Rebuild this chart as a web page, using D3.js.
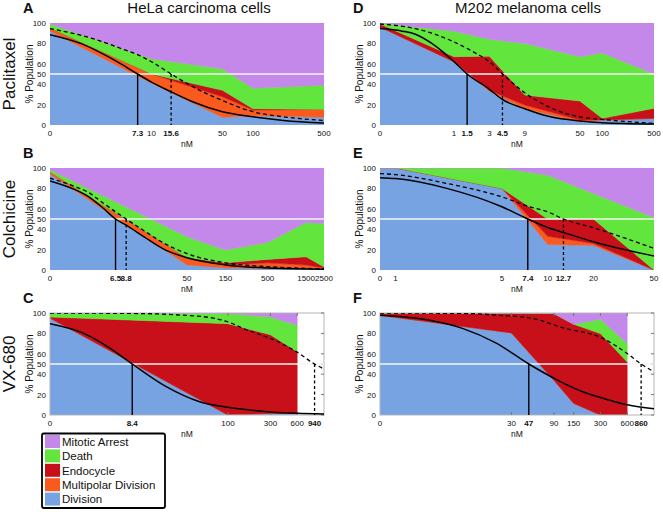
<!DOCTYPE html>
<html><head><meta charset="utf-8">
<script src="https://cdn.jsdelivr.net/npm/d3@7"></script>
<style>
body{margin:0;background:#fff}
svg{display:block}
text{font-family:"Liberation Sans",Arial,Helvetica,sans-serif;fill:#111}
</style>
</head><body>
<svg id="chart" width="663" height="512"></svg>
<script>
// ---------- legend / layers ----------
const layerNames  = ["Mitotic Arrest","Death","Endocycle","Multipolar Division","Division"];
const layerColors = ["#c487ea","#62e53c","#c8101a","#fa5a1e","#77a3e2"];
const stackKeys   = ["division","multipolar","endocycle","death","mitotic"];
const yTicks = [0,20,40,50,60,80,100];

// ---------- Panel A: Paclitaxel / HeLa ----------
const concA       = [0, 10, 50, 100, 500];
const divisionA   = [92, 41, 7.5, 9, 7.5];
const multipolarA = [3, 9, 20.2, 5.7, 7.8];
const endocycleA  = [0, 0, 6.3, 1.3, 0];
const deathA      = [4, 15, 21, 20, 23.7];
const mitoticA    = [1, 35, 45, 64, 61];
const solidA  = [[0,88.6],[2,80],[3,72],[5,60],[7.3,50],[10,42],[15.6,32.5],[25,23],[50,13],[100,8],[200,4.5],[500,2]];
const dashedA = [[0,94.5],[2,88],[3,83],[5,75],[7.3,69],[10,62],[15.6,50],[25,38],[50,24],[100,13],[200,8],[500,4.5]];
const ticksA = [0,10,50,100,500], boldA = [7.3,15.6];

// ---------- Panel D: Paclitaxel / M202 ----------
const concD       = [0, 1, 3, 9, 50, 100, 500];
const divisionD   = [96, 62, 33, 16, 3, 5, 6.5];
const multipolarD = [0, 0, 1, 3.5, 2, 0, 0];
const endocycleD  = [3, 5, 33.4, 9.8, 18.5, 1.5, 9.8];
const deathD      = [1, 25, 16.6, 50.7, 43.5, 64.2, 33.7];
const mitoticD    = [0, 8, 16, 20, 33, 29.3, 50];
const solidD  = [[0,94.5],[0.2,92],[0.3,89],[0.5,80],[0.7,72],[1,62],[1.5,50],[3,35],[4.5,25],[9,16],[20,8],[50,4],[100,2.3],[500,1]];
const dashedD = [[0,99],[0.3,94.5],[0.5,90],[1,81.4],[2,70],[3,62],[4.5,50],[9,31.6],[20,17],[50,8],[100,5.5],[500,1.6]];
const ticksD = [0,1,3,9,50,100,500], boldD = [1.5,4.5];

// ---------- Panel B: Colchicine / HeLa ----------
const concB       = [0, 50, 150, 500, 1500, 2500];
const divisionB   = [94, 5, 2, 1.5, 1.5, 1];
const multipolarB = [2, 7, 3, 5.5, 3.5, 1];
const endocycleB  = [0, 0, 2, 3.4, 8, 1];
const deathB      = [2.4, 20.6, 12.5, 16.6, 33.6, 42.6];
const mitoticB    = [1.6, 67.4, 80.5, 73, 53.4, 54.4];
const solidB  = [[0,87.3],[2,79],[3,72],[4.5,61],[6.5,50],[8.8,44],[15,32],[25,21],[50,12],[150,5],[500,2],[1500,1],[2500,0.8]];
const dashedB = [[0,90],[2,82],[3,76],[4.5,66],[6.5,57],[8.8,50],[15,38],[25,27],[50,16],[150,7],[500,3.3],[1500,1.6],[2500,1.2]];
const ticksB = [0,50,150,500,1500,2500], boldB = [6.5,8.8];

// ---------- Panel E: Colchicine / M202 ----------
const concE       = [0, 1, 5, 10, 20, 50];
const divisionE   = [100, 100, 80, 25, 24, 0];
const multipolarE = [0, 0, 0, 8, 2, 0];
const endocycleE  = [0, 0, 0, 17, 24, 0];
const deathE      = [0, 0, 20, 43, 25, 51.5];
const mitoticE    = [0, 0, 0, 7, 25, 48.5];
const solidE  = [[0,90.5],[1,89.6],[2.2,79.8],[5,62],[7.4,50],[10,41.7],[12.7,36.8],[20,27.7],[50,13.7]];
const dashedE = [[0,94.5],[1,93.5],[2.2,84.7],[5,71.7],[7.4,62.5],[10,57],[12.7,50],[20,41.4],[50,21.2]];
const ticksE = [0,1,5,10,20,50], boldE = [7.4,12.7];

// ---------- Panel C: VX-680 / HeLa ----------
const concC       = [0, 100, 300, 600];
const divisionC   = [95, 0, 1.5, 1.5];
const multipolarC = [0, 0, 0, 0];
const endocycleC  = [1, 89.5, 77.2, 60.5];
const deathC      = [4, 10, 17.3, 26];
const mitoticC    = [0, 0.5, 4, 12];
const solidC  = [[0,89.5],[2.4,80],[4.7,65.6],[8.4,50],[20,28],[48,13],[100,7.5],[300,3],[600,1.6],[1200,1]];
const dashedC = [[0,100],[10,99.5],[29,98],[68,95],[104,90.8],[160,83.6],[294,75.4],[584,62.2],[940,50],[1200,45]];
const ticksC = [0,100,300,600], boldC = [8.4,940];

// ---------- Panel F: VX-680 / M202 ----------
const concF       = [0, 30, 90, 150, 300, 600];
const divisionF   = [97.7, 80.5, 34, 11.4, 0, 0];
const multipolarF = [0, 0, 0, 0, 0, 0];
const endocycleF  = [2.3, 19.5, 65.5, 77.6, 79.8, 52];
const deathF      = [0, 0, 0, 0, 14, 18];
const mitoticF    = [0, 0, 0.5, 11, 6.2, 30];
const solidF  = [[0,97.7],[3.6,92.8],[8.6,84.7],[20,70.7],[47,50],[100,34],[200,22],[400,14],[600,10],[1200,6]];
const dashedF = [[0,100],[10,99.5],[22,97.7],[47,95.4],[123,84.7],[294,76.5],[600,60.3],[860,50],[1200,42.3]];
const ticksF = [0,30,90,150,300,600], boldF = [47,860];

// ---------- panel setup ----------
const panels = [
  {letter:"A", col:0, row:0, domain:[1,500], conc:concA, s:[divisionA,multipolarA,endocycleA,deathA,mitoticA], solid:solidA, dashed:dashedA, ticks:ticksA, bold:boldA},
  {letter:"D", col:1, row:0, domain:[0.1,500], conc:concD, s:[divisionD,multipolarD,endocycleD,deathD,mitoticD], solid:solidD, dashed:dashedD, ticks:ticksD, bold:boldD},
  {letter:"B", col:0, row:1, domain:[1,2500], conc:concB, s:[divisionB,multipolarB,endocycleB,deathB,mitoticB], solid:solidB, dashed:dashedB, ticks:ticksB, bold:boldB},
  {letter:"E", col:1, row:1, domain:[0.79,50], conc:concE, s:[divisionE,multipolarE,endocycleE,deathE,mitoticE], solid:solidE, dashed:dashedE, ticks:ticksE, bold:boldE},
  {letter:"C", col:0, row:2, domain:[1,1200], conc:concC, s:[divisionC,multipolarC,endocycleC,deathC,mitoticC], solid:solidC, dashed:dashedC, ticks:ticksC, bold:boldC, frame:true},
  {letter:"F", col:1, row:2, domain:[1,1200], conc:concF, s:[divisionF,multipolarF,endocycleF,deathF,mitoticF], solid:solidF, dashed:dashedF, ticks:ticksF, bold:boldF, frame:true}
];
const colX = [[50,324],[380,654]];
const rowY = [[23,125],[168,270],[313,415]];
const rowTitles = ["Paclitaxel","Colchicine","VX-680"];
const colTitles = ["HeLa carcinoma cells","M202 melanoma cells"];

const svg = d3.select("#chart");
const defs = svg.append("defs");

panels.forEach((p,i) => {
  const [x0,x1] = colX[p.col], [yT,yB] = rowY[p.row];
  const x = d3.scaleLog().domain(p.domain).range([x0,x1]);
  const y = d3.scaleLinear().domain([0,100]).range([yB,yT]);
  const xv = c => x(c === 0 ? p.domain[0] : c);
  const g = svg.append("g");
  const clipId = "clip"+i;
  defs.append("clipPath").attr("id",clipId).append("rect")
    .attr("x",x0).attr("y",yT).attr("width",x1-x0).attr("height",yB-yT);

  const rows = p.conc.map((c,j) => {
    const o = {conc:c};
    stackKeys.forEach((k,ki) => o[k] = p.s[ki][j]);
    return o;
  });
  const stacked = d3.stack().keys(stackKeys)(rows);
  const area = d3.area().x(d => xv(d.data.conc)).y0(d => y(d[0])).y1(d => y(Math.min(100,d[1])));
  const colorOf = {division:layerColors[4], multipolar:layerColors[3], endocycle:layerColors[2], death:layerColors[1], mitotic:layerColors[0]};
  g.append("g").attr("clip-path",`url(#${clipId})`).selectAll("path").data(stacked).join("path")
    .attr("d",area).attr("fill",d => colorOf[d.key]).attr("stroke",d => colorOf[d.key]).attr("stroke-width",0.5);

  if (p.frame) {
    g.append("rect").attr("x",x0).attr("y",yT).attr("width",x1-x0).attr("height",yB-yT)
      .attr("fill","none").attr("stroke","#b5b5b5").attr("stroke-width",1);
    p.ticks.filter(t=>t>0).forEach(t => {
      g.append("line").attr("x1",xv(t)).attr("x2",xv(t)).attr("y1",yT).attr("y2",yT+3).attr("stroke","#777");
      g.append("line").attr("x1",xv(t)).attr("x2",xv(t)).attr("y1",yB).attr("y2",yB-3).attr("stroke","#777");
    });
    yTicks.forEach(t => g.append("line").attr("x1",x1).attr("x2",x1-3).attr("y1",y(t)).attr("y2",y(t)).attr("stroke","#777"));
  }

  // 50% line
  g.append("line").attr("x1",x0).attr("x2",x1).attr("y1",y(50)).attr("y2",y(50))
    .attr("stroke","#f4f4f4").attr("stroke-width",1.5);

  const line = d3.line().x(d => xv(d[0])).y(d => y(d[1])).curve(d3.curveMonotoneX);
  const cg = g.append("g").attr("clip-path",`url(#${clipId})`);
  cg.append("path").attr("d",line(p.solid)).attr("fill","none").attr("stroke","#000").attr("stroke-width",1.5);
  cg.append("path").attr("d",line(p.dashed)).attr("fill","none").attr("stroke","#000").attr("stroke-width",1.3).attr("stroke-dasharray","4,3");
  cg.append("line").attr("x1",xv(p.bold[0])).attr("x2",xv(p.bold[0])).attr("y1",y(50)).attr("y2",y(0))
    .attr("stroke","#000").attr("stroke-width",1.4);
  cg.append("line").attr("x1",xv(p.bold[1])).attr("x2",xv(p.bold[1])).attr("y1",y(50)).attr("y2",y(0))
    .attr("stroke","#000").attr("stroke-width",1.3).attr("stroke-dasharray","3,2.5");

  // y tick labels
  g.selectAll("text.yt").data(yTicks).join("text").attr("class","yt")
    .attr("x",x0-4).attr("y",d => y(d)+3).attr("text-anchor","end").attr("font-size",8).text(d=>d);
  // x tick labels
  const tb = yB + 10.5;
  g.selectAll("text.xt").data(p.ticks).join("text").attr("class","xt")
    .attr("x",d => xv(d)).attr("y",tb).attr("text-anchor","middle").attr("font-size",8).text(d=>d);
  g.selectAll("text.xb").data(p.bold).join("text").attr("class","xb")
    .attr("x",d => xv(d)).attr("y",tb).attr("text-anchor","middle").attr("font-size",8).attr("font-weight","bold").text(d=>d);
  g.append("text").attr("x",(x0+x1)/2).attr("y",yB+21.5).attr("text-anchor","middle").attr("font-size",8.5).text("nM");
  // % Population
  g.append("text").attr("transform",`translate(${x0-17},${(yT+yB)/2}) rotate(-90)`)
    .attr("text-anchor","middle").attr("font-size",10).text("% Population");
  // panel letter
  g.append("text").attr("x",x0-27).attr("y",yT-10.5).attr("font-size",14.5).attr("font-weight","bold").text(p.letter);
});

// column titles
colTitles.forEach((t,i) => svg.append("text").attr("x",i===0?199:528).attr("y",13).attr("text-anchor","middle")
  .attr("font-size",15).text(t));
// row titles
rowTitles.forEach((t,i) => svg.append("text")
  .attr("transform",`translate(15,${(rowY[i][0]+rowY[i][1])/2}) rotate(-90)`)
  .attr("text-anchor","middle").attr("font-size",17).text(t));

// legend
const lg = svg.append("g");
lg.append("rect").attr("x",42).attr("y",433.5).attr("width",123).attr("height",74.5).attr("rx",2)
  .attr("fill","#fff").attr("stroke","#000").attr("stroke-width",1.8);
layerNames.forEach((n,i) => {
  const cy = 441.5 + i*14.4;
  lg.append("rect").attr("x",45).attr("y",cy-6.5).attr("width",15).attr("height",13).attr("fill",layerColors[i]);
  lg.append("text").attr("x",62).attr("y",cy+4.3).attr("font-size",11.5).text(n);
});
</script>
</body></html>
